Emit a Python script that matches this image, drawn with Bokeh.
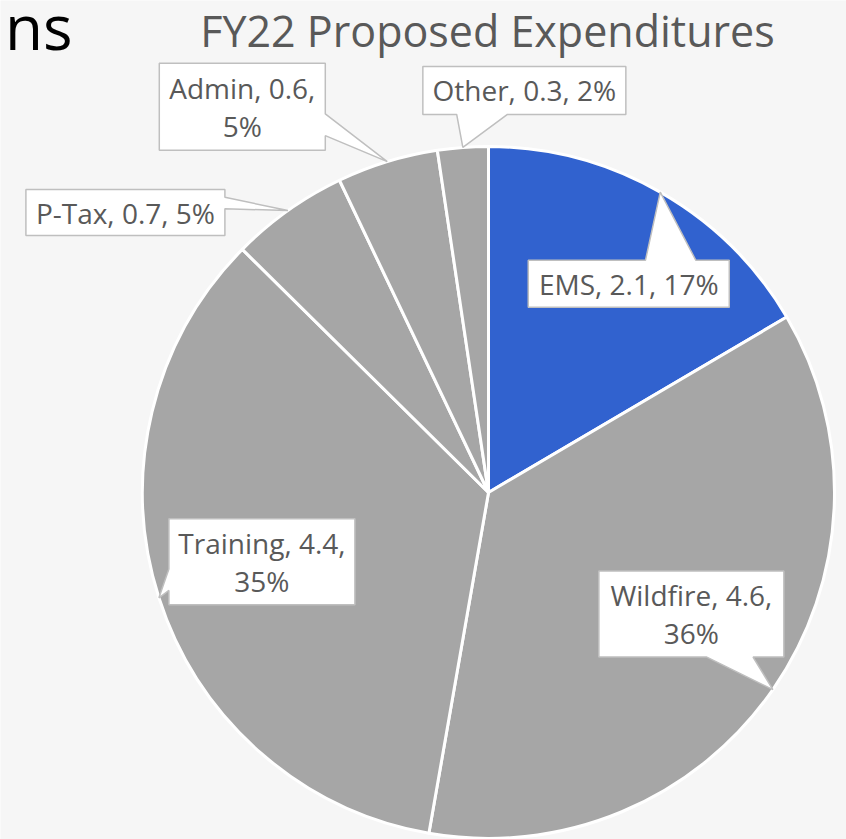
import numpy as np
from bokeh.plotting import figure
from bokeh.models import Range1d, ColumnDataSource
from bokeh.core.properties import value
from bokeh.embed import file_html
from bokeh.resources import INLINE

# ---- data ----
categories = ["EMS", "Wildfire", "Training", "P-Tax", "Admin", "Other"]
amounts = [2.1, 4.6, 4.4, 0.7, 0.6, 0.3]
percents = [17, 36, 35, 5, 5, 2]
title_text = "FY22 Proposed Expenditures"
slide_fragment = "ns"

# ---- styles / layout ----
slice_colors = ["#3162CF", "#A6A6A6", "#A6A6A6", "#A6A6A6", "#A6A6A6", "#A6A6A6"]
two_line = [False, True, True, False, True, False]
box_offsets = [(-31.5, 91.5), (-81.5, -75.5), (103, -36), (-162.5, 2), (-145, -55), (61.5, -57)]
box_sizes = [(201, 47), (185, 86), (186, 86), (199, 46), (166, 87), (203, 48)]

W, H = 846, 839
CX, CY, R = 488, 492, 346

p = figure(width=W, height=H, output_backend="svg", toolbar_location=None,
           x_range=Range1d(0, W), y_range=Range1d(-H, 0),
           x_axis_type=None, y_axis_type=None, min_border=0)
p.grid.visible = False
p.outline_line_color = None
p.background_fill_color = "#F6F6F6"
p.border_fill_color = "#F6F6F6"

vals = np.array(amounts, dtype=float)
frac = vals / vals.sum()
cum = np.concatenate([[0.0], np.cumsum(frac)])
start = np.pi / 2 - 2 * np.pi * cum[:-1]
end = np.pi / 2 - 2 * np.pi * cum[1:]
mid = (start + end) / 2

src = ColumnDataSource(dict(cat=categories, start=start, end=end, color=slice_colors))
p.wedge(x=CX, y=-CY, radius=R, start_angle="start", end_angle="end", direction="clock",
        fill_color="color", line_color="white", line_width=3, source=src)

tip_x = CX + R * np.cos(mid)
tip_y = CY - R * np.sin(mid)


def callout(bx, by, w, h, tx, ty):
    l, r, t, b = bx - w / 2, bx + w / 2, by - h / 2, by + h / 2
    dx = (tx - bx) / w
    dy = (ty - by) / h
    if abs(dx) > abs(dy):
        f0, f1 = (2 / 12, 5 / 12) if dy < 0 else (7 / 12, 10 / 12)
        y0, y1 = t + f0 * h, t + f1 * h
        if dx > 0:
            pts = [(l, t), (r, t), (r, y0), (tx, ty), (r, y1), (r, b), (l, b)]
        else:
            pts = [(l, t), (r, t), (r, b), (l, b), (l, y1), (tx, ty), (l, y0)]
    else:
        f0, f1 = (2 / 12, 5 / 12) if dx < 0 else (7 / 12, 10 / 12)
        x0, x1 = l + f0 * w, l + f1 * w
        if dy > 0:
            pts = [(l, t), (r, t), (r, b), (x1, b), (tx, ty), (x0, b), (l, b)]
        else:
            pts = [(l, t), (x0, t), (tx, ty), (x1, t), (r, t), (r, b), (l, b)]
    return [q[0] for q in pts], [-q[1] for q in pts]


xs, ys, lx, ly, texts = [], [], [], [], []
for i, cat in enumerate(categories):
    bx = tip_x[i] + box_offsets[i][0]
    by = tip_y[i] + box_offsets[i][1]
    w, h = box_sizes[i]
    px, py = callout(bx, by, w, h, tip_x[i], tip_y[i])
    xs.append(px)
    ys.append(py)
    lx.append(bx)
    ly.append(-by)
    sep = ",\n" if two_line[i] else ", "
    texts.append(f"{cat}, {amounts[i]}{sep}{percents[i]}%")

p.patches(xs=xs, ys=ys, fill_color="white", line_color="#BFBFBF", line_width=1.5)
p.text(x=lx, y=ly, text=texts, text_font=value("Open Sans"), text_font_size="28px",
       text_color="#595959", text_align="center", text_baseline="middle",
       text_line_height=1.0)

p.text(x=[487], y=[-30], text=[title_text], text_font=value("Open Sans"), text_font_size="43px",
       text_color="#595959", text_align="center", text_baseline="alphabetic")

p.text(x=[72], y=[-25], text=[slide_fragment], text_font=value("Open Sans"), text_font_size="62px",
       text_color="#000000", text_align="right", text_baseline="alphabetic")

open("out.html", "w").write(file_html(p, INLINE))
